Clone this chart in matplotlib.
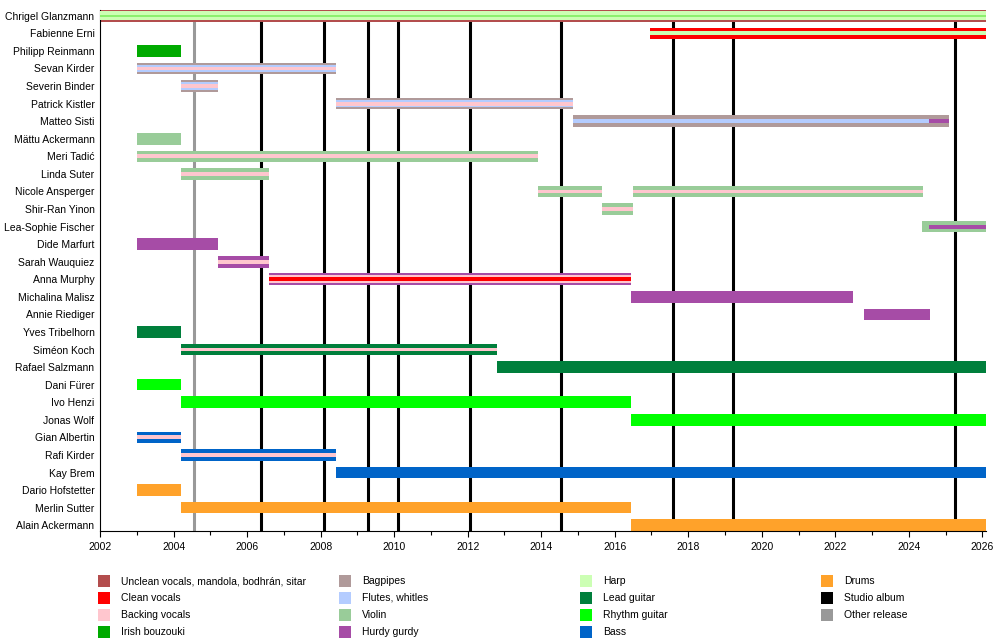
import matplotlib
matplotlib.use("Agg")
import matplotlib.pyplot as plt
from matplotlib.patches import Rectangle

plt.rcParams['font.family'] = ['Liberation Sans', 'DejaVu Sans']
plt.rcParams['font.size'] = 7.5

END = 2026.1  # "present"

members = ['Chrigel Glanzmann', 'Fabienne Erni', 'Philipp Reinmann', 'Sevan Kirder',
           'Severin Binder', 'Patrick Kistler', 'Matteo Sisti', 'Mättu Ackermann',
           'Meri Tadić', 'Linda Suter', 'Nicole Ansperger', 'Shir-Ran Yinon',
           'Lea-Sophie Fischer', 'Dide Marfurt', 'Sarah Wauquiez', 'Anna Murphy',
           'Michalina Malisz', 'Annie Riediger', 'Yves Tribelhorn', 'Siméon Koch',
           'Rafael Salzmann', 'Dani Fürer', 'Ivo Henzi', 'Jonas Wolf', 'Gian Albertin',
           'Rafi Kirder', 'Kay Brem', 'Dario Hofstetter', 'Merlin Sutter', 'Alain Ackermann']
members = [m for m in members]  # top to bottom

# one entry per bar segment (roles listed from outer to inner layer)
seg_member = ['Chrigel Glanzmann', 'Fabienne Erni', 'Philipp Reinmann', 'Sevan Kirder',
              'Severin Binder', 'Patrick Kistler', 'Matteo Sisti', 'Matteo Sisti',
              'Mättu Ackermann', 'Meri Tadić', 'Linda Suter', 'Nicole Ansperger',
              'Nicole Ansperger', 'Shir-Ran Yinon', 'Lea-Sophie Fischer', 'Lea-Sophie Fischer',
              'Dide Marfurt', 'Sarah Wauquiez', 'Anna Murphy', 'Michalina Malisz',
              'Annie Riediger', 'Yves Tribelhorn', 'Siméon Koch', 'Rafael Salzmann',
              'Dani Fürer', 'Ivo Henzi', 'Jonas Wolf', 'Gian Albertin', 'Rafi Kirder',
              'Kay Brem', 'Dario Hofstetter', 'Merlin Sutter', 'Alain Ackermann']
seg_start = [2002.0, 2016.96, 2003.0, 2003.0,
             2004.2, 2008.42, 2014.87, 2024.55,
             2003.0, 2003.0, 2004.2, 2013.92,
             2016.5, 2015.66, 2024.36, 2024.55,
             2003.0, 2005.2, 2006.6, 2016.45,
             2022.78, 2003.0, 2004.2, 2012.8,
             2003.0, 2004.2, 2016.45, 2003.0, 2004.2,
             2008.42, 2003.0, 2004.2, 2016.45]
seg_end = [END, END, 2004.2, 2008.42,
           2005.2, 2014.87, 2024.55, 2025.1,
           2004.2, 2013.92, 2006.6, 2015.66,
           2024.38, 2016.5, 2024.55, END,
           2005.2, 2006.6, 2016.45, 2022.48,
           2024.58, 2004.2, 2012.8, END,
           2004.2, 2016.45, END, 2004.2, 2008.42,
           END, 2004.2, 2016.45, END]
seg_roles = [['unclean', 'harp', 'harp_line'], ['clean', 'harp'], ['bouzouki'],
             ['bagpipes', 'flutes', 'backing'],
             ['bagpipes', 'flutes', 'backing'], ['bagpipes', 'flutes', 'backing'],
             ['bagpipes', 'flutes'], ['bagpipes', 'hurdy'],
             ['violin'], ['violin', 'backing'], ['violin', 'backing'], ['violin', 'backing'],
             ['violin', 'backing'], ['violin', 'backing'], ['violin'], ['violin', 'hurdy'],
             ['hurdy'], ['hurdy', 'backing'], ['hurdy', 'backing', 'clean'], ['hurdy'],
             ['hurdy'], ['lead'], ['lead', 'backing'], ['lead'],
             ['rhythm'], ['rhythm'], ['rhythm'], ['bass', 'backing'], ['bass', 'backing'],
             ['bass'], ['drums'], ['drums'], ['drums']]

studio_albums = [2006.38, 2008.09, 2009.29, 2010.11, 2012.07, 2014.54, 2017.59, 2019.22, 2025.26]
other_releases = [2004.56]

role_keys = ['unclean', 'clean', 'backing', 'bouzouki', 'bagpipes', 'flutes', 'violin', 'hurdy',
             'harp', 'lead', 'rhythm', 'bass', 'drums', 'studio', 'other']
role_labels = ['Unclean vocals, mandola, bodhrán, sitar', 'Clean vocals', 'Backing vocals',
               'Irish bouzouki', 'Bagpipes', 'Flutes, whitles', 'Violin', 'Hurdy gurdy',
               'Harp', 'Lead guitar', 'Rhythm guitar', 'Bass', 'Drums', 'Studio album',
               'Other release']
role_colors = ['#B34D4D', '#FF0000', '#FFC6CE', '#00AA00', '#B09A9A', '#B4CCFF', '#99CC99',
               '#A64CA6', '#CCFFB4', '#007F3C', '#00FF00', '#0064C8', '#FFA22A', '#000000',
               '#999999']
colors = dict(zip(role_keys, role_colors))
colors['harp_line'] = '#8CF06E'

fig = plt.figure(figsize=(10, 6.42), dpi=100)
ax = fig.add_axes([0.1, 1 - 531 / 642, 0.886, 521 / 642])

row = {m: i for i, m in enumerate(members)}
H = 0.66

for x in studio_albums:
    ax.axvline(x, color='black', lw=2.2, zorder=1)
for x in other_releases:
    ax.axvline(x, color='#999999', lw=2.2, zorder=1)

for m, s, e, roles in zip(seg_member, seg_start, seg_end, seg_roles):
    if roles[0] == 'unclean':
        hs = [1.0, 0.78, 0.2]
    elif len(roles) == 3:
        hs = [1.0, 2 / 3, 1 / 3]
    else:
        hs = [1.0, 1 / 3]
    for k, r in enumerate(roles):
        ax.barh(row[m], e - s, left=s, height=H * hs[k], color=colors[r],
                linewidth=0, zorder=2 + k)

ax.set_xlim(2002, END)
ax.set_ylim(len(members) - 1 + H / 2, -H / 2)
ax.set_yticks(range(len(members)))
ax.set_yticklabels(members)
ax.set_xticks(range(2002, 2027, 2))
ax.set_xticks(range(2003, 2027, 2), minor=True)
ax.tick_params(axis='y', length=0, pad=4)
ax.tick_params(axis='x', which='major', length=4, width=0.8, pad=4)
ax.tick_params(axis='x', which='minor', length=3, width=0.8)
for sp in ['top', 'right']:
    ax.spines[sp].set_visible(False)
for sp in ['left', 'bottom']:
    ax.spines[sp].set_linewidth(0.8)

# legend, 4 columns
col_x = [98, 339, 580, 821]
row_y = [581, 598, 615, 632]
for i, (lab, c) in enumerate(zip(role_labels, role_colors)):
    cx = col_x[i // 4]
    cy = row_y[i % 4]
    fig.add_artist(Rectangle((cx / 1000, 1 - (cy + 6) / 642), 12 / 1000, 12 / 642,
                             transform=fig.transFigure, color=c, lw=0))
    fig.text((cx + 23) / 1000, 1 - cy / 642, lab, va='center', ha='left')

fig.savefig('out.png', dpi=100)
